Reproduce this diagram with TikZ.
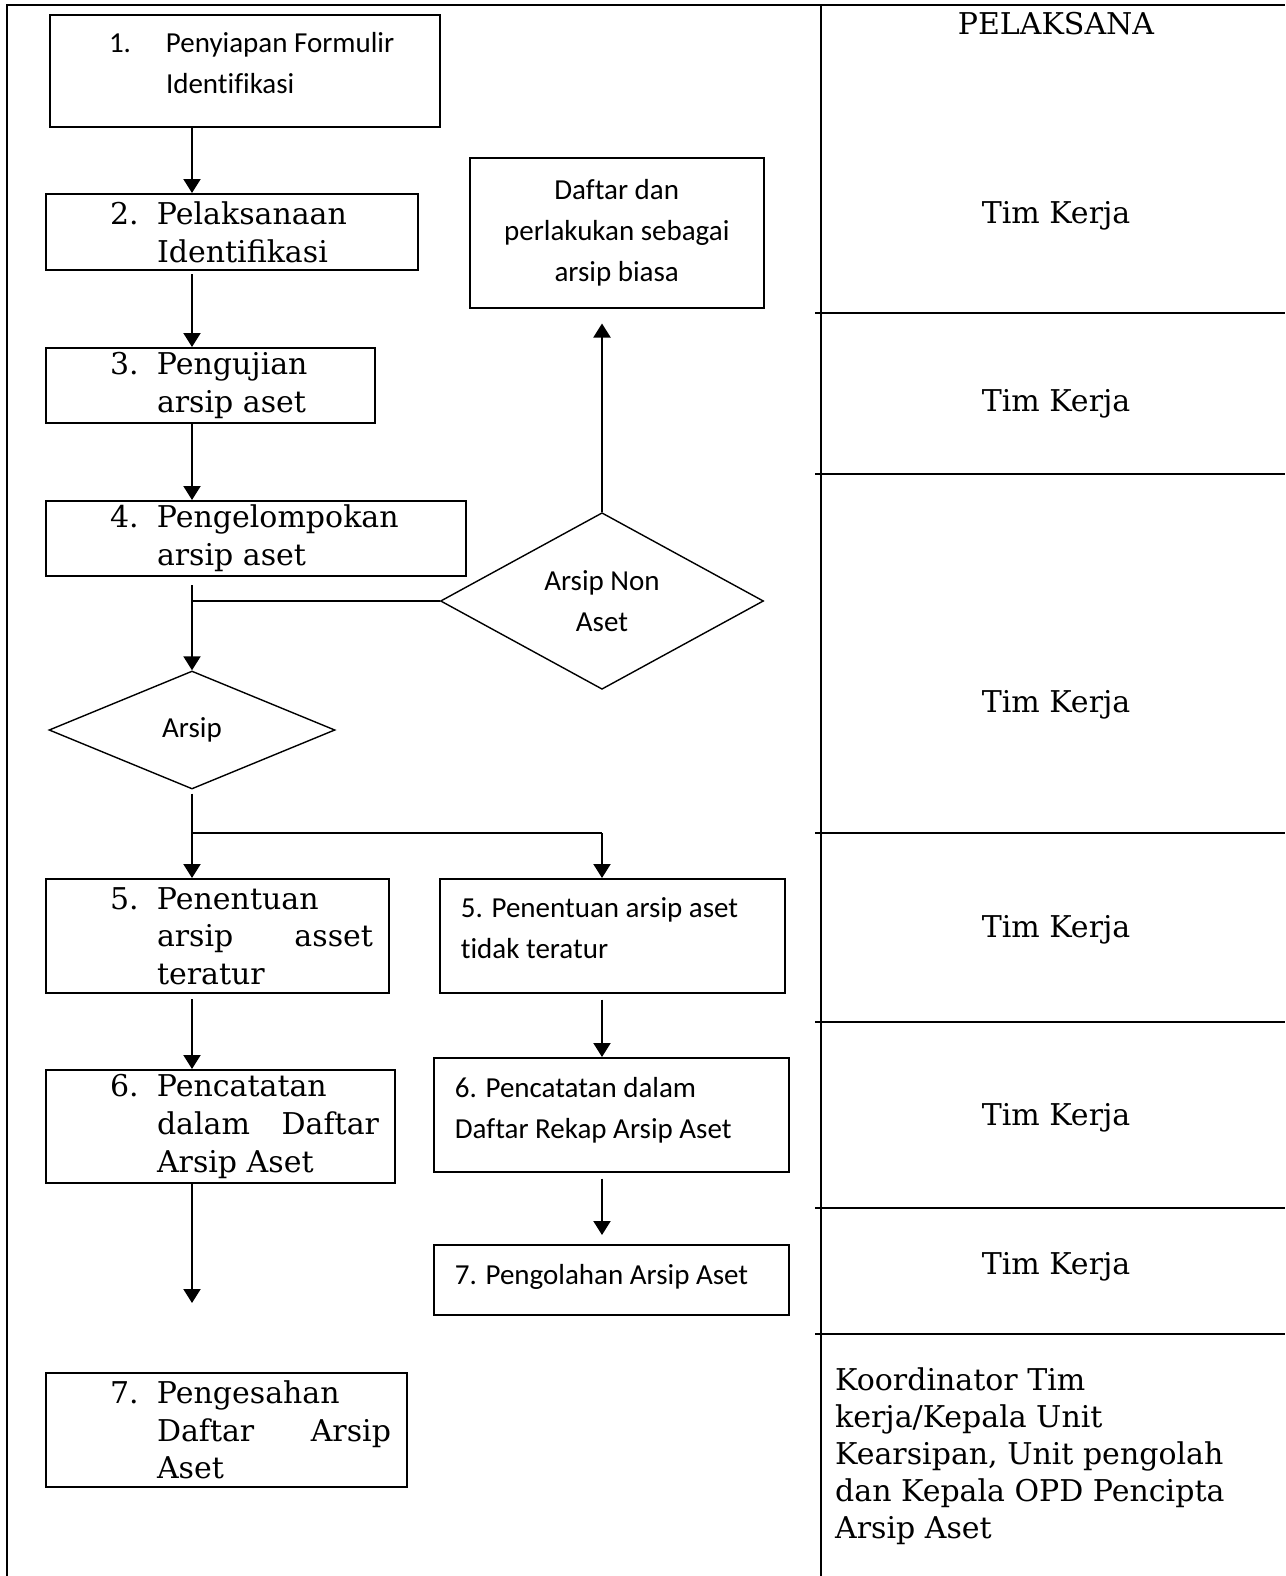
\documentclass[tikz,border=0pt]{standalone}
\usepackage{fontspec}
\setmainfont{DejaVu Serif}
\newfontfamily\calibri[Ligatures=NoCommon]{Carlito}
\usetikzlibrary{arrows.meta,shapes.geometric}
\newcommand{\bookfont}{\fontsize{30pt}{37.7pt}\selectfont}
\newcommand{\calfont}{\calibri\fontsize{29pt}{41pt}\selectfont}
% box width, left gap, text width, lift, text
\newcommand{\boxtext}[5]{\makebox[#1][l]{\hspace*{#2}\raisebox{#4}[\height][\depth]{\begin{minipage}{#3}\tolerance=10000\hyphenpenalty=10000 #5\end{minipage}}}}
\newcommand{\itemno}[2]{\hangindent=#2\hangafter=1\noindent\makebox[#2][l]{#1}}

\begin{document}
\begin{tikzpicture}[x=1pt,y=-1pt,
  box/.style={draw,line width=2pt,inner sep=0pt,anchor=north west,font=\bookfont},
  smallbox/.style={draw,line width=1.7pt,inner sep=0pt,anchor=north west,font=\calfont},
  decision/.style={diamond,draw,line width=1.4pt,inner sep=0pt,font=\calfont,align=center},
  arr/.style={-{Triangle[width=17pt,length=14pt]},line width=2pt},
  link/.style={line width=1.4pt},
  tableline/.style={line width=2pt},
  lanetext/.style={font=\bookfont,inner sep=0pt}]
  \useasboundingbox (0,0) rectangle (1285,1576);

  % table frame and lanes
  \draw[tableline] (7,1576) -- (7,5) -- (1285,5);
  \draw[tableline] (821,5) -- (821,1576);
  \draw[tableline,line width=1.7pt] (815,313) -- (1285,313);
  \draw[tableline,line width=1.7pt] (815,474) -- (1285,474);
  \draw[tableline,line width=1.7pt] (815,833) -- (1285,833);
  \draw[tableline,line width=1.7pt] (815,1022) -- (1285,1022);
  \draw[tableline,line width=1.7pt] (815,1208) -- (1285,1208);
  \draw[tableline,line width=1.7pt] (815,1334) -- (1285,1334);

  \node[lanetext,anchor=base] (pelaksana) at (1056,35) {PELAKSANA};
  \node[lanetext,anchor=base] (tim1) at (1056,223) {Tim Kerja};
  \node[lanetext,anchor=base] (tim2) at (1056,411) {Tim Kerja};
  \node[lanetext,anchor=base] (tim3) at (1056,712) {Tim Kerja};
  \node[lanetext,anchor=base] (tim4) at (1056,937) {Tim Kerja};
  \node[lanetext,anchor=base] (tim5) at (1056,1125) {Tim Kerja};
  \node[lanetext,anchor=base] (tim6) at (1056,1274) {Tim Kerja};
  \node[lanetext,anchor=base west] (koordinator) at (835,1390)
    {\begin{minipage}[t]{440pt}\fontsize{30pt}{37pt}\selectfont
      Koordinator Tim\\kerja/Kepala Unit\\Kearsipan, Unit pengolah\\dan Kepala OPD Pencipta\\Arsip Aset\end{minipage}};

  % left flow
  \node[smallbox,line width=2pt,minimum height=112pt] (formulir) at (49,14)
    {\boxtext{390pt}{59pt}{320pt}{8pt}{\itemno{1.}{57pt}Penyiapan Formulir\newline Identifikasi}};
  \node[box,minimum height=76pt] (identifikasi) at (45,193)
    {\boxtext{372pt}{64pt}{292pt}{0pt}{\itemno{2.}{47pt}Pelaksanaan\newline Identifikasi}};
  \node[box,minimum height=75pt] (pengujian) at (45,347)
    {\boxtext{329pt}{64pt}{249pt}{0pt}{\itemno{3.}{47pt}Pengujian\newline arsip aset}};
  \node[box,minimum height=75pt] (pengelompokan) at (45,500)
    {\boxtext{420pt}{64pt}{340pt}{0pt}{\itemno{4.}{47pt}Pengelompokan\newline arsip aset}};
  \node[decision,minimum width=286pt,minimum height=118pt] (arsip) at (192,730) {Arsip};
  \node[box,minimum height=114pt] (teratur) at (45,878)
    {\boxtext{343pt}{64pt}{263pt}{0pt}{\itemno{5.}{47pt}Penentuan\newline arsip asset\linebreak teratur}};
  \node[box,minimum height=113pt] (catat) at (45,1069)
    {\boxtext{349pt}{64pt}{269pt}{0pt}{\itemno{6.}{47pt}Pencatatan\newline dalam Daftar\linebreak Arsip Aset}};
  \node[box,minimum height=114pt] (pengesahan) at (45,1372)
    {\boxtext{361pt}{64pt}{281pt}{0pt}{\itemno{7.}{47pt}Pengesahan\newline Daftar Arsip\linebreak Aset}};

  % right flow
  \node[smallbox,line width=1.5pt,align=center,minimum width=294pt,minimum height=150pt] (daftar) at (469,157)
    {Daftar dan\\perlakukan sebagai\\arsip biasa};
  \node[decision,minimum width=323pt,minimum height=171pt] (nonaset) at (602,601) {Arsip Non\\Aset};
  \node[smallbox,minimum height=114pt] (tidakteratur) at (439,878)
    {\boxtext{345pt}{21pt}{310pt}{8pt}{5. Penentuan arsip aset\newline tidak teratur}};
  \node[smallbox,minimum height=114pt] (rekap) at (433,1057)
    {\boxtext{355pt}{21pt}{320pt}{5pt}{6. Pencatatan dalam\newline Daftar Rekap Arsip Aset}};
  \node[smallbox,minimum height=70pt] (pengolahan) at (433,1244)
    {\boxtext{355pt}{21pt}{320pt}{3pt}{7. Pengolahan Arsip Aset}};

  % connectors
  \coordinate (split) at (192,833);
  \draw[arr] (formulir.south -| arsip) -- (identifikasi.north -| arsip);
  \draw[arr,shorten <=3pt] (identifikasi.south -| arsip) -- (pengujian.north -| arsip);
  \draw[arr] (pengujian.south -| arsip) -- (pengelompokan.north -| arsip);
  \draw[arr,shorten <=8pt] (pengelompokan.south -| arsip) -- (arsip.north);
  \draw[link] (nonaset.west) -- (nonaset.west -| arsip);
  \draw[arr,shorten >=15pt] (nonaset.north) -- (daftar.south -| nonaset);
  \draw[arr,shorten <=4pt] (arsip.south) -- (teratur.north -| arsip);
  \draw[link] (split) -- (split -| nonaset);
  \draw[arr] (split -| nonaset) -- (tidakteratur.north -| nonaset);
  \draw[arr,shorten <=5pt] (teratur.south -| arsip) -- (catat.north -| arsip);
  \draw[arr,shorten >=69pt] (catat.south -| arsip) -- (pengesahan.north -| arsip);
  \draw[arr,shorten <=6pt] (tidakteratur.south -| nonaset) -- (rekap.north -| nonaset);
  \draw[arr,shorten <=6pt,shorten >=9pt] (rekap.south -| nonaset) -- (pengolahan.north -| nonaset);
\end{tikzpicture}
\end{document}
